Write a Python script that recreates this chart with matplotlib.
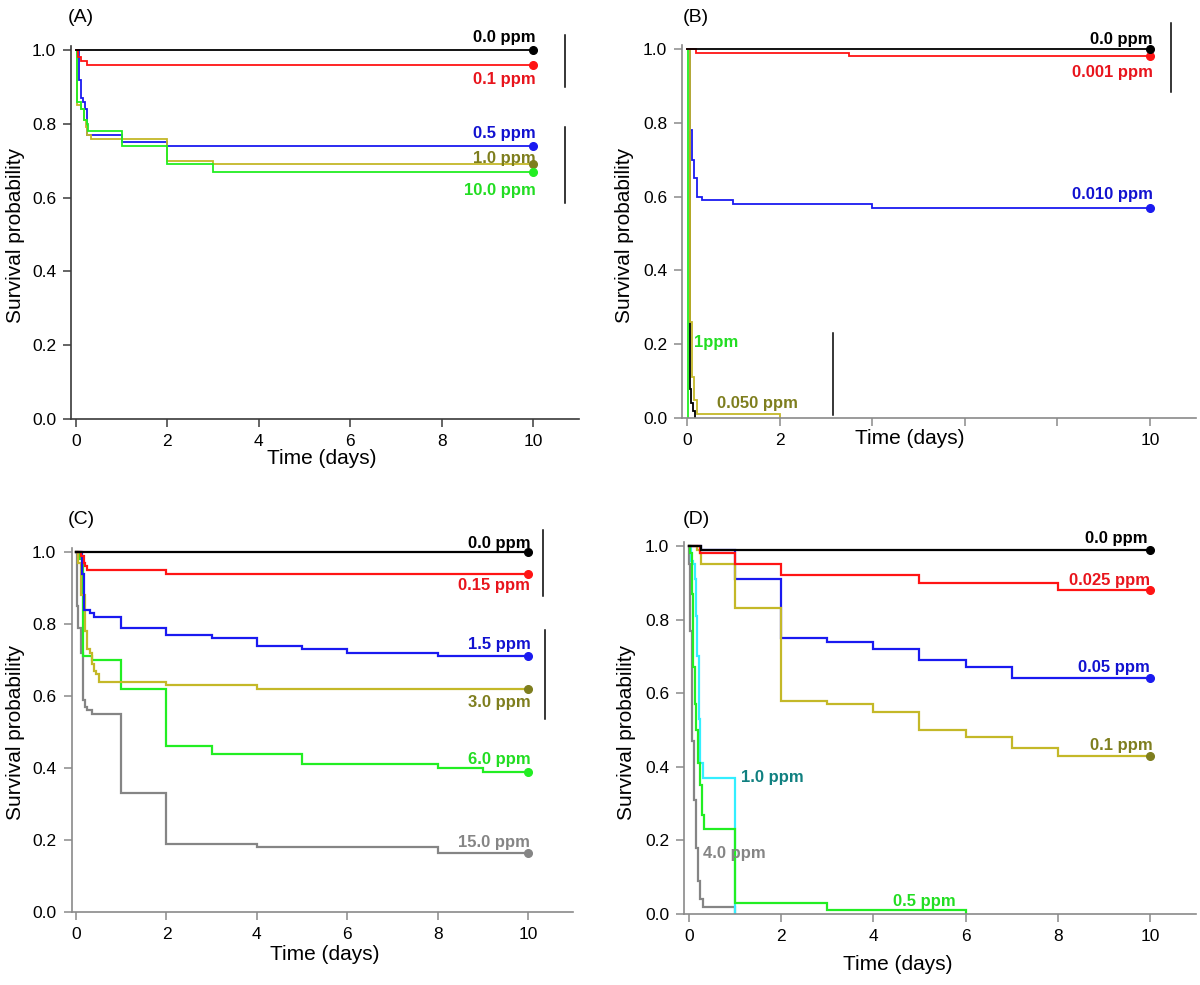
import matplotlib

matplotlib.use("Agg")

import matplotlib.pyplot as plt

plt.rcParams["font.family"] = ["Liberation Sans", "DejaVu Sans"]

# ---------------- data (Kaplan-Meier steps: time in days, survival) ----------------
# Panel A
a_t_00 = [0.0]
a_s_00 = [1.0]
a_t_01 = [0.0, 0.04, 0.12, 0.25]
a_s_01 = [1.0, 0.98, 0.97, 0.96]
a_t_05 = [0.0, 0.07, 0.1, 0.15, 0.2, 0.25, 1.0, 2.0]
a_s_05 = [1.0, 0.92, 0.87, 0.86, 0.84, 0.77, 0.75, 0.74]
a_t_10 = [0.0, 0.03, 0.1, 0.17, 0.22, 0.25, 0.33, 2.0, 3.0]
a_s_10 = [1.0, 0.85, 0.84, 0.81, 0.79, 0.77, 0.76, 0.70, 0.69]
a_t_100 = [0.0, 0.03, 0.1, 0.17, 0.25, 0.27, 1.0, 2.0, 3.0]
a_s_100 = [1.0, 0.86, 0.84, 0.81, 0.80, 0.78, 0.74, 0.69, 0.67]

# Panel B
b_t_0000 = [0.0]
b_s_0000 = [1.0]
b_t_0001 = [0.0, 0.2, 3.5]
b_s_0001 = [1.0, 0.99, 0.98]
b_t_0010 = [0.0, 0.06, 0.1, 0.15, 0.22, 0.33, 1.0, 4.0]
b_s_0010 = [1.0, 0.78, 0.70, 0.65, 0.60, 0.59, 0.58, 0.57]
b_t_0050 = [0.0, 0.06, 0.11, 0.15, 0.22, 2.0]
b_s_0050 = [1.0, 0.26, 0.11, 0.05, 0.01, 0.0]
b_t_1 = [0.0, 0.02]
b_s_1 = [1.0, 0.0]
b_t_other = [0.0, 0.065, 0.09, 0.13, 0.17]
b_s_other = [1.0, 0.08, 0.04, 0.02, 0.0]

# Panel C
c_t_00 = [0.0]
c_s_00 = [1.0]
c_t_015 = [0.0, 0.12, 0.17, 0.2, 0.25, 2.0]
c_s_015 = [1.0, 0.99, 0.97, 0.96, 0.95, 0.94]
c_t_15 = [0.0, 0.14, 0.18, 0.3, 0.4, 1.0, 2.0, 3.0, 4.0, 5.0, 6.0, 8.0]
c_s_15 = [1.0, 0.94, 0.84, 0.83, 0.82, 0.79, 0.77, 0.76, 0.74, 0.73, 0.72, 0.71]
c_t_30 = [0.0, 0.05, 0.12, 0.2, 0.25, 0.3, 0.35, 0.4, 0.45, 0.5, 2.0, 4.0]
c_s_30 = [1.0, 0.97, 0.88, 0.78, 0.73, 0.72, 0.69, 0.67, 0.66, 0.64, 0.63, 0.62]
c_t_60 = [0.0, 0.08, 0.16, 0.35, 1.0, 2.0, 3.0, 5.0, 8.0, 9.0]
c_s_60 = [1.0, 0.98, 0.71, 0.70, 0.62, 0.46, 0.44, 0.41, 0.40, 0.39]
c_t_150 = [0.0, 0.02, 0.05, 0.1, 0.15, 0.2, 0.25, 0.35, 1.0, 2.0, 4.0, 8.0]
c_s_150 = [1.0, 0.85, 0.79, 0.72, 0.59, 0.57, 0.56, 0.55, 0.33, 0.19, 0.18, 0.165]

# Panel D
d_t_00 = [0.0, 0.26]
d_s_00 = [1.0, 0.99]
d_t_0025 = [0.0, 0.24, 1.0, 2.0, 5.0, 8.0]
d_s_0025 = [1.0, 0.98, 0.95, 0.92, 0.90, 0.88]
d_t_005 = [0.0, 0.26, 1.0, 2.0, 3.0, 4.0, 5.0, 6.0, 7.0]
d_s_005 = [1.0, 0.99, 0.91, 0.75, 0.74, 0.72, 0.69, 0.67, 0.64]
d_t_01 = [0.0, 0.17, 0.23, 0.27, 1.0, 2.0, 3.0, 4.0, 5.0, 6.0, 7.0, 8.0]
d_s_01 = [1.0, 0.99, 0.98, 0.95, 0.83, 0.58, 0.57, 0.55, 0.50, 0.48, 0.45, 0.43]
d_t_05 = [0.0, 0.03, 0.06, 0.09, 0.12, 0.15, 0.2, 0.24, 0.28, 0.33, 1.0, 3.0, 6.0]
d_s_05 = [1.0, 0.98, 0.87, 0.67, 0.57, 0.50, 0.41, 0.35, 0.27, 0.23, 0.03, 0.01, 0.0]
d_t_10 = [0.0, 0.05, 0.08, 0.12, 0.15, 0.18, 0.22, 0.25, 0.3, 1.0]
d_s_10 = [1.0, 0.96, 0.95, 0.91, 0.81, 0.70, 0.53, 0.41, 0.37, 0.0]
d_t_40 = [0.0, 0.01, 0.03, 0.06, 0.1, 0.15, 0.2, 0.24, 0.3, 1.0]
d_s_40 = [1.0, 0.95, 0.77, 0.47, 0.31, 0.18, 0.09, 0.04, 0.02, 0.0]

END_DAY = 10.0
X_TICKS = [0, 2, 4, 6, 8, 10]
Y_TICKS = [0.0, 0.2, 0.4, 0.6, 0.8, 1.0]

# ---------------- styling ----------------
BLACK = "#000000"
RED = "#ff1414"
RED_TXT = "#e8141c"
BLUE = "#1a1af0"
BLUE_TXT = "#1212d0"
OLIVE = "#c4b828"
OLIVE_TXT = "#7e7e1e"
GREEN = "#22ee22"
GREEN_TXT = "#22dd22"
GREY = "#858585"
CYAN = "#33eeff"
TEAL_TXT = "#108080"


def km(ax, t, s, color, lw, dot=None):
    """Step curve; if dot is given the curve is carried to END_DAY and ends with a dot."""
    x = list(t)
    y = list(s)
    if dot is not None:
        x.append(END_DAY)
        y.append(s[-1])
    ax.step(x, y, where="post", color=color, linewidth=lw, solid_joinstyle="miter")
    if dot is not None:
        ax.plot([END_DAY], [s[-1]], "o", color=dot, markersize=5.5, zorder=5, clip_on=False)


def style_axes(ax, spine_color, xlabels=None):
    ax.set_xlim(-0.1, 11.0)
    ax.set_ylim(0.0, 1.01)
    for side in ("top", "right"):
        ax.spines[side].set_visible(False)
    for side in ("left", "bottom"):
        ax.spines[side].set_color(spine_color)
        ax.spines[side].set_linewidth(1.2)
    ax.set_xticks(X_TICKS)
    ax.set_xticklabels(xlabels if xlabels is not None else [str(v) for v in X_TICKS])
    ax.set_yticks(Y_TICKS)
    ax.set_yticklabels([f"{v:.1f}" for v in Y_TICKS])
    ax.tick_params(direction="out", length=6, width=1.1, colors=spine_color,
                   labelcolor="black", labelsize=12.5, pad=5)


def bar(ax, x, y0, y1):
    ax.plot([x, x], [y0, y1], color="black", linewidth=1.1, clip_on=False)


def tag(ax, x, y, text, color, ha="right"):
    ax.text(x, y, text, color=color, fontsize=12, fontweight="bold",
            ha=ha, va="center", clip_on=False, zorder=6)


fig = plt.figure(figsize=(12.0, 9.85), dpi=100)

# ---- (A)
ax = fig.add_axes([0.0595, 0.5746, 0.4228, 0.3784])
style_axes(ax, "#3a3a3a")
km(ax, a_t_05, a_s_05, BLUE, 1.3, BLUE)
km(ax, a_t_10, a_s_10, OLIVE, 1.3, OLIVE_TXT)
km(ax, a_t_100, a_s_100, GREEN, 1.3, GREEN)
km(ax, a_t_01, a_s_01, RED, 1.3, RED)
km(ax, a_t_00, a_s_00, BLACK, 1.3, BLACK)
tag(ax, 10.05, 1.035, "0.0 ppm", BLACK)
tag(ax, 10.05, 0.921, "0.1 ppm", RED_TXT)
tag(ax, 10.05, 0.775, "0.5 ppm", BLUE_TXT)
tag(ax, 10.05, 0.707, "1.0 ppm", OLIVE_TXT)
tag(ax, 10.05, 0.618, "10.0 ppm", GREEN_TXT)
bar(ax, 10.7, 1.04, 0.90)
bar(ax, 10.7, 0.79, 0.585)

# ---- (B)  the axis title sits where the 4/6/8 labels would be
ax = fig.add_axes([0.5687, 0.5756, 0.4283, 0.3784])
style_axes(ax, "#8a8a8a", xlabels=["0", "2", "", "", "", "10"])
km(ax, b_t_other, b_s_other, BLACK, 1.3)
km(ax, b_t_0010, b_s_0010, BLUE, 1.3, BLUE)
km(ax, b_t_0050, b_s_0050, OLIVE, 1.3)
km(ax, b_t_1, b_s_1, GREEN, 1.3)
km(ax, b_t_0001, b_s_0001, RED, 1.3, RED)
km(ax, b_t_0000, b_s_0000, BLACK, 1.3, BLACK)
tag(ax, 10.05, 1.027, "0.0 ppm", BLACK)
tag(ax, 10.05, 0.935, "0.001 ppm", RED_TXT)
tag(ax, 10.05, 0.605, "0.010 ppm", BLUE_TXT)
tag(ax, 0.15, 0.205, "1ppm", GREEN_TXT, ha="left")
tag(ax, 0.65, 0.040, "0.050 ppm", OLIVE_TXT, ha="left")
bar(ax, 10.45, 1.07, 0.884)
bar(ax, 3.15, 0.23, 0.008)

# ---- (C)
ax = fig.add_axes([0.0596, 0.0741, 0.4181, 0.3691])
style_axes(ax, "#8a8a8a")
km(ax, c_t_150, c_s_150, GREY, 1.6, GREY)
km(ax, c_t_60, c_s_60, GREEN, 1.6, GREEN)
km(ax, c_t_30, c_s_30, OLIVE, 1.6, OLIVE_TXT)
km(ax, c_t_15, c_s_15, BLUE, 1.6, BLUE)
km(ax, c_t_015, c_s_015, RED, 1.6, RED)
km(ax, c_t_00, c_s_00, BLACK, 1.6, BLACK)
tag(ax, 10.05, 1.025, "0.0 ppm", BLACK)
tag(ax, 10.05, 0.908, "0.15 ppm", RED_TXT)
tag(ax, 10.05, 0.744, "1.5 ppm", BLUE_TXT)
tag(ax, 10.05, 0.583, "3.0 ppm", OLIVE_TXT)
tag(ax, 10.05, 0.425, "6.0 ppm", GREEN_TXT)
tag(ax, 10.05, 0.194, "15.0 ppm", GREY)
bar(ax, 10.33, 1.061, 0.878)
bar(ax, 10.37, 0.783, 0.536)

# ---- (D)
ax = fig.add_axes([0.5703, 0.0721, 0.4264, 0.3774])
style_axes(ax, "#8a8a8a")
km(ax, d_t_40, d_s_40, GREY, 1.6)
km(ax, d_t_10, d_s_10, CYAN, 1.6)
km(ax, d_t_05, d_s_05, GREEN, 1.6)
km(ax, d_t_005, d_s_005, BLUE, 1.6, BLUE)
km(ax, d_t_01, d_s_01, OLIVE, 1.6, OLIVE_TXT)
km(ax, d_t_0025, d_s_0025, RED, 1.6, RED)
km(ax, d_t_00, d_s_00, BLACK, 1.6, BLACK)
tag(ax, 9.95, 1.019, "0.0 ppm", BLACK)
tag(ax, 10.0, 0.905, "0.025 ppm", RED_TXT)
tag(ax, 10.0, 0.671, "0.05 ppm", BLUE_TXT)
tag(ax, 10.05, 0.459, "0.1 ppm", OLIVE_TXT)
tag(ax, 1.13, 0.370, "1.0 ppm", TEAL_TXT, ha="left")
tag(ax, 0.30, 0.163, "4.0 ppm", GREY, ha="left")
tag(ax, 5.1, 0.035, "0.5 ppm", GREEN_TXT, ha="center")

# ---- panel letters and axis titles (figure coordinates from pixel positions)
W, H = 1200.0, 985.0
for letter, px, py in [("(A)", 68, 18), ("(B)", 683, 18), ("(C)", 68, 519), ("(D)", 683, 519)]:
    fig.text(px / W, 1 - py / H, letter, fontsize=14, ha="left", va="center")
for px, py in [(16, 235), (625, 235), (16, 732), (627, 732)]:
    fig.text(px / W, 1 - py / H, "Survival probability", fontsize=15,
             rotation=90, ha="center", va="center")
for px, py in [(322, 459), (910, 438), (325, 955), (898, 964)]:
    fig.text(px / W, 1 - py / H, "Time (days)", fontsize=15, ha="center", va="center")

fig.savefig("out.png", dpi=100)
